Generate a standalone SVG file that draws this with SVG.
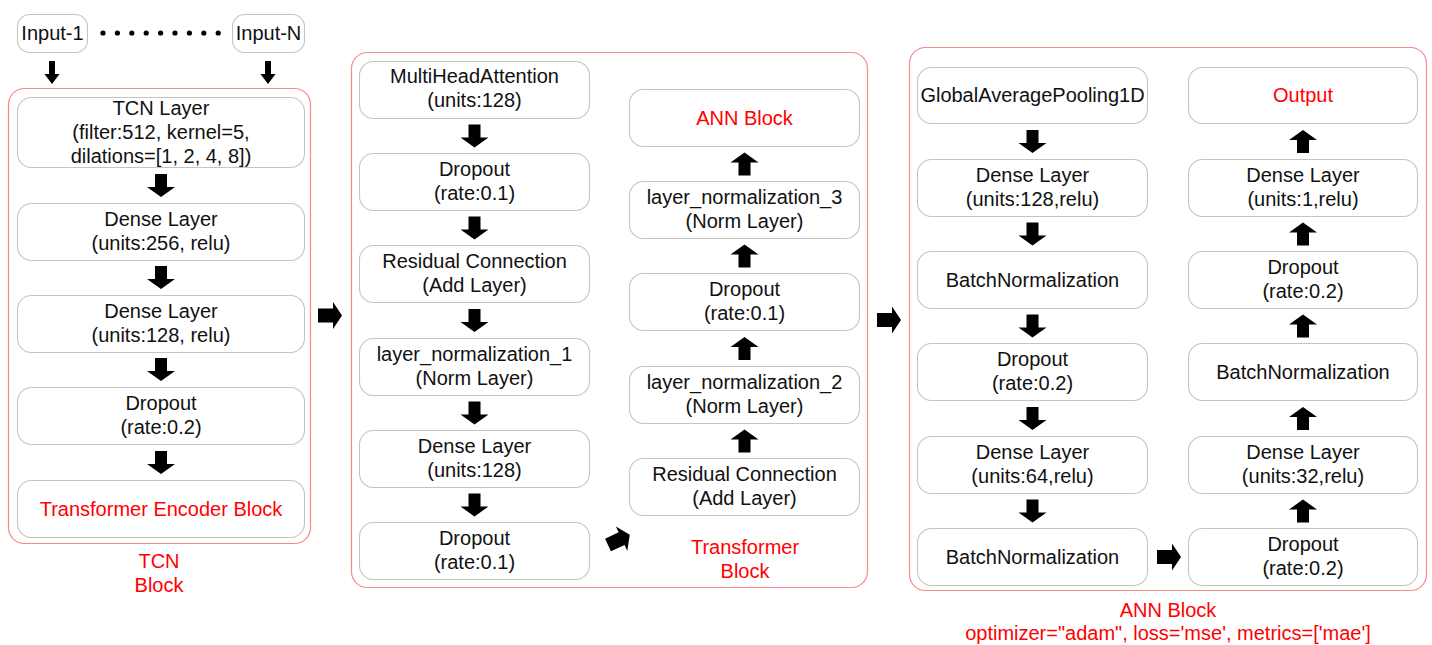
<svg xmlns="http://www.w3.org/2000/svg" xmlns:xlink="http://www.w3.org/1999/xlink" width="1432" height="645" viewBox="0 0 1432 645">
  <style>
    .blk { fill: none; stroke: #f48a8a; stroke-width: 1.2; }
    .box { fill: #ffffff; stroke: #c4c4c4; stroke-width: 1.1; }
    text { font-family: "Liberation Sans", Arial, sans-serif; font-size: 20px; text-anchor: middle; fill: #111111; }
    .red { fill: #ff0000; }
    .arr { fill: #000000; }
  </style>
  <defs>
    <!-- block arrow pointing down, top of shaft at origin -->
    <path id="down" d="M-6,0 H6 V13 H14 L0,23 L-14,13 H-6 Z"/>
    <!-- block arrow pointing right, tail at origin -->
    <path id="right" d="M0,-7 H15 V-13.5 L24,0 L15,13.5 V7 H0 Z"/>
    <!-- small arrow under the inputs -->
    <path id="downSmall" d="M-3,0 H3 V13 H7.5 L0,23 L-7.5,13 H-3 Z"/>
  </defs>

  <rect width="1432" height="645" fill="#ffffff"/>

  <!-- block frames -->
  <g id="frames">
    <rect class="blk" x="8.5" y="88.5" width="302" height="455" rx="16"/>
    <rect class="blk" x="351.5" y="52.5" width="516" height="535" rx="16"/>
    <rect class="blk" x="909.5" y="47.5" width="517" height="543" rx="16"/>
  </g>

  <!-- inputs -->
  <g id="input-1">
    <rect class="box" x="17.5" y="14.5" width="70" height="38" rx="12"/>
    <text x="52.5" y="40">Input-1</text>
  </g>
  <g id="input-n">
    <rect class="box" x="232.5" y="14.5" width="72" height="38" rx="12"/>
    <text x="268.5" y="40">Input-N</text>
  </g>
  <g id="ellipsis" fill="#000000">
    <circle cx="103" cy="33" r="2.6"/>
    <circle cx="117.4" cy="33" r="2.6"/>
    <circle cx="131.8" cy="33" r="2.6"/>
    <circle cx="146.2" cy="33" r="2.6"/>
    <circle cx="160.6" cy="33" r="2.6"/>
    <circle cx="175" cy="33" r="2.6"/>
    <circle cx="189.4" cy="33" r="2.6"/>
    <circle cx="203.8" cy="33" r="2.6"/>
    <circle cx="218.2" cy="33" r="2.6"/>
  </g>

  <!-- TCN block -->
  <g id="tcn-layer">
    <rect class="box" x="17.5" y="97.5" width="287" height="70" rx="14"/>
    <text x="161" y="115">TCN Layer</text>
    <text x="161" y="139">(filter:512, kernel=5,</text>
    <text x="161" y="163">dilations=[1, 2, 4, 8])</text>
  </g>
  <g id="tcn-dense-256">
    <rect class="box" x="17.5" y="203.5" width="287" height="57" rx="14"/>
    <text x="161" y="226">Dense Layer</text>
    <text x="161" y="250">(units:256, relu)</text>
  </g>
  <g id="tcn-dense-128">
    <rect class="box" x="17.5" y="295.5" width="287" height="57" rx="14"/>
    <text x="161" y="318">Dense Layer</text>
    <text x="161" y="342">(units:128, relu)</text>
  </g>
  <g id="tcn-dropout">
    <rect class="box" x="17.5" y="387.5" width="287" height="57" rx="14"/>
    <text x="161" y="410">Dropout</text>
    <text x="161" y="434">(rate:0.2)</text>
  </g>
  <g id="tcn-to-transformer">
    <rect class="box" x="17.5" y="480.5" width="287" height="57" rx="14"/>
    <text class="red" x="161" y="516">Transformer Encoder Block</text>
  </g>
  <g id="tcn-label">
    <text class="red" x="159" y="568">TCN</text>
    <text class="red" x="159" y="592">Block</text>
  </g>

  <!-- Transformer block, left column -->
  <g id="tr-mha">
    <rect class="box" x="359.5" y="61.5" width="230" height="57" rx="14"/>
    <text x="474.5" y="83">MultiHeadAttention</text>
    <text x="474.5" y="107">(units:128)</text>
  </g>
  <g id="tr-dropout-1">
    <rect class="box" x="359.5" y="153.5" width="230" height="57" rx="14"/>
    <text x="474.5" y="176">Dropout</text>
    <text x="474.5" y="200">(rate:0.1)</text>
  </g>
  <g id="tr-residual-1">
    <rect class="box" x="359.5" y="245.5" width="230" height="57" rx="14"/>
    <text x="474.5" y="268">Residual Connection</text>
    <text x="474.5" y="292">(Add Layer)</text>
  </g>
  <g id="tr-norm-1">
    <rect class="box" x="359.5" y="338.5" width="230" height="57" rx="14"/>
    <text x="474.5" y="361">layer_normalization_1</text>
    <text x="474.5" y="385">(Norm Layer)</text>
  </g>
  <g id="tr-dense">
    <rect class="box" x="359.5" y="430.5" width="230" height="57" rx="14"/>
    <text x="474.5" y="453">Dense Layer</text>
    <text x="474.5" y="477">(units:128)</text>
  </g>
  <g id="tr-dropout-2">
    <rect class="box" x="359.5" y="522.5" width="230" height="57" rx="14"/>
    <text x="474.5" y="545">Dropout</text>
    <text x="474.5" y="569">(rate:0.1)</text>
  </g>

  <!-- Transformer block, right column -->
  <g id="tr-to-ann">
    <rect class="box" x="629.5" y="89.5" width="230" height="57" rx="14"/>
    <text class="red" x="744.5" y="125">ANN Block</text>
  </g>
  <g id="tr-norm-3">
    <rect class="box" x="629.5" y="181.5" width="230" height="57" rx="14"/>
    <text x="744.5" y="204">layer_normalization_3</text>
    <text x="744.5" y="228">(Norm Layer)</text>
  </g>
  <g id="tr-dropout-3">
    <rect class="box" x="629.5" y="273.5" width="230" height="57" rx="14"/>
    <text x="744.5" y="296">Dropout</text>
    <text x="744.5" y="320">(rate:0.1)</text>
  </g>
  <g id="tr-norm-2">
    <rect class="box" x="629.5" y="366.5" width="230" height="57" rx="14"/>
    <text x="744.5" y="389">layer_normalization_2</text>
    <text x="744.5" y="413">(Norm Layer)</text>
  </g>
  <g id="tr-residual-2">
    <rect class="box" x="629.5" y="458.5" width="230" height="57" rx="14"/>
    <text x="744.5" y="481">Residual Connection</text>
    <text x="744.5" y="505">(Add Layer)</text>
  </g>
  <g id="tr-label">
    <text class="red" x="745" y="554">Transformer</text>
    <text class="red" x="745" y="578">Block</text>
  </g>

  <!-- ANN block, left column -->
  <g id="ann-gap">
    <rect class="box" x="917.5" y="67.5" width="230" height="56" rx="14"/>
    <text x="1032.5" y="102">GlobalAveragePooling1D</text>
  </g>
  <g id="ann-dense-128">
    <rect class="box" x="917.5" y="159.5" width="230" height="57" rx="14"/>
    <text x="1032.5" y="182">Dense Layer</text>
    <text x="1032.5" y="206">(units:128,relu)</text>
  </g>
  <g id="ann-bn-1">
    <rect class="box" x="917.5" y="251.5" width="230" height="57" rx="14"/>
    <text x="1032.5" y="287">BatchNormalization</text>
  </g>
  <g id="ann-dropout-1">
    <rect class="box" x="917.5" y="343.5" width="230" height="57" rx="14"/>
    <text x="1032.5" y="366">Dropout</text>
    <text x="1032.5" y="390">(rate:0.2)</text>
  </g>
  <g id="ann-dense-64">
    <rect class="box" x="917.5" y="436.5" width="230" height="57" rx="14"/>
    <text x="1032.5" y="459">Dense Layer</text>
    <text x="1032.5" y="483">(units:64,relu)</text>
  </g>
  <g id="ann-bn-2">
    <rect class="box" x="917.5" y="528.5" width="230" height="57" rx="14"/>
    <text x="1032.5" y="564">BatchNormalization</text>
  </g>

  <!-- ANN block, right column -->
  <g id="ann-output">
    <rect class="box" x="1188.5" y="67.5" width="229" height="56" rx="14"/>
    <text class="red" x="1303" y="102">Output</text>
  </g>
  <g id="ann-dense-1">
    <rect class="box" x="1188.5" y="159.5" width="229" height="57" rx="14"/>
    <text x="1303" y="182">Dense Layer</text>
    <text x="1303" y="206">(units:1,relu)</text>
  </g>
  <g id="ann-dropout-3">
    <rect class="box" x="1188.5" y="251.5" width="229" height="57" rx="14"/>
    <text x="1303" y="274">Dropout</text>
    <text x="1303" y="298">(rate:0.2)</text>
  </g>
  <g id="ann-bn-3">
    <rect class="box" x="1188.5" y="343.5" width="229" height="57" rx="14"/>
    <text x="1303" y="379">BatchNormalization</text>
  </g>
  <g id="ann-dense-32">
    <rect class="box" x="1188.5" y="436.5" width="229" height="57" rx="14"/>
    <text x="1303" y="459">Dense Layer</text>
    <text x="1303" y="483">(units:32,relu)</text>
  </g>
  <g id="ann-dropout-2">
    <rect class="box" x="1188.5" y="528.5" width="229" height="57" rx="14"/>
    <text x="1303" y="551">Dropout</text>
    <text x="1303" y="575">(rate:0.2)</text>
  </g>
  <g id="ann-label">
    <text class="red" x="1168" y="617">ANN Block</text>
    <text class="red" x="1168" y="640">optimizer="adam", loss='mse', metrics=['mae']</text>
  </g>

  <!-- connectors -->
  <g id="connectors" class="arr">
    <use xlink:href="#downSmall" transform="translate(52,61)"/>
    <use xlink:href="#downSmall" transform="translate(268,61)"/>

    <use xlink:href="#down" transform="translate(161,174)"/>
    <use xlink:href="#down" transform="translate(161,266)"/>
    <use xlink:href="#down" transform="translate(161,358)"/>
    <use xlink:href="#down" transform="translate(161,451)"/>

    <use xlink:href="#right" transform="translate(318,315.5)"/>

    <use xlink:href="#down" transform="translate(474.5,124.5)"/>
    <use xlink:href="#down" transform="translate(474.5,216.5)"/>
    <use xlink:href="#down" transform="translate(474.5,309)"/>
    <use xlink:href="#down" transform="translate(474.5,401.5)"/>
    <use xlink:href="#down" transform="translate(474.5,493.5)"/>

    <use xlink:href="#right" transform="translate(608,545) rotate(-25)"/>

    <use xlink:href="#down" transform="translate(744.5,175.5) rotate(180)"/>
    <use xlink:href="#down" transform="translate(744.5,267.5) rotate(180)"/>
    <use xlink:href="#down" transform="translate(744.5,360) rotate(180)"/>
    <use xlink:href="#down" transform="translate(744.5,452.5) rotate(180)"/>

    <use xlink:href="#right" transform="translate(877,320)"/>

    <use xlink:href="#down" transform="translate(1032.5,130)"/>
    <use xlink:href="#down" transform="translate(1032.5,222.5)"/>
    <use xlink:href="#down" transform="translate(1032.5,314.5)"/>
    <use xlink:href="#down" transform="translate(1032.5,407)"/>
    <use xlink:href="#down" transform="translate(1032.5,499.5)"/>

    <use xlink:href="#right" transform="translate(1157,557)"/>

    <use xlink:href="#down" transform="translate(1303,522.5) rotate(180)"/>
    <use xlink:href="#down" transform="translate(1303,430) rotate(180)"/>
    <use xlink:href="#down" transform="translate(1303,337.5) rotate(180)"/>
    <use xlink:href="#down" transform="translate(1303,245.5) rotate(180)"/>
    <use xlink:href="#down" transform="translate(1303,153) rotate(180)"/>
  </g>
</svg>
